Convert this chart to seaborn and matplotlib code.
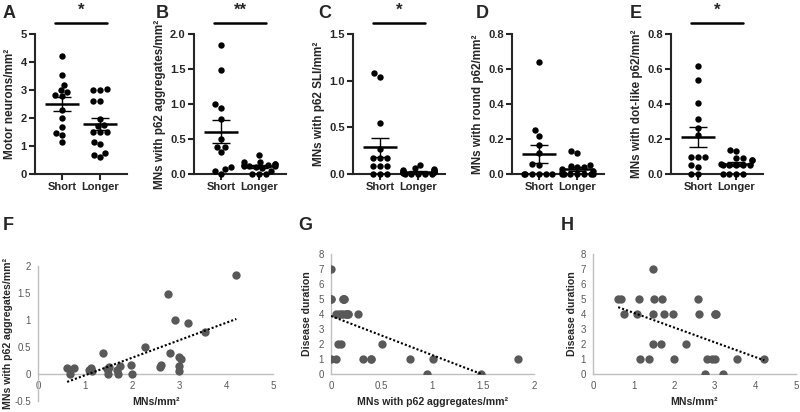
import warnings
import numpy as np
import pandas as pd
import matplotlib
matplotlib.use("Agg")
import matplotlib.pyplot as plt
import matplotlib.transforms as mtransforms
import seaborn as sns

warnings.filterwarnings("ignore")

# patients with short disease duration
short_mn = [2.77, 3.19, 1.15, 1.39, 1.99, 2.81, 2.92, 3.00, 3.55, 4.22, 1.47, 1.68, 2.28]
short_agg = [1.48, 0.95, 0.05, 0.39, 0.00, 0.39, 1.00, 0.32, 0.78, 1.84, 0.10, 0.07, 0.50]
short_dur = [0, 0, 1, 1, 1, 1, 1, 1, 1, 1, 2, 2, 2]
short_sli = [1.08, 1.04, 0.55, 0.27, 0.17, 0.17, 0.17, 0.09, 0.09, 0.09, 0.0, 0.0, 0.0]
short_round = [0.64, 0.25, 0.22, 0.165, 0.12, 0.055, 0.05, 0.0, 0.0, 0.0, 0.0, 0.0, 0.0]
short_dot = [0.615, 0.535, 0.405, 0.315, 0.265, 0.225, 0.10, 0.10, 0.10, 0.05, 0.04, 0.0, 0.0]

# patients with longer disease duration
longer_mn = [1.49, 0.62, 0.68, 1.13, 1.51, 1.70, 2.59, 0.76, 1.08, 1.49, 1.74, 1.98, 2.61, 3.00, 3.00, 3.04]
longer_agg = [0.00, 0.12, 0.00, 0.12, 0.13, 0.00, 0.13, 0.12, 0.08, 0.10, 0.15, 0.17, 0.17, 0.05, 0.15, 0.27]
longer_dur = [7, 5, 5, 5, 5, 5, 5, 4, 4, 4, 4, 4, 4, 4, 4, 4]
longer_sli = [0.10, 0.06, 0.05, 0.04, 0.04, 0.03, 0.03, 0.02, 0.02, 0.02, 0.01, 0.0, 0.0, 0.0, 0.0, 0.0]
longer_round = [0.13, 0.12, 0.05, 0.045, 0.04, 0.04, 0.03, 0.02, 0.01, 0.0, 0.0, 0.0, 0.0, 0.0, 0.0, 0.0]
longer_dot = [0.14, 0.13, 0.09, 0.09, 0.08, 0.08, 0.06, 0.05, 0.05, 0.05, 0.05, 0.05, 0.0, 0.0, 0.0, 0.0]

groups = ["Short", "Longer"]

top_letters = ["A", "B", "C", "D", "E"]
top_ylabels = ["Motor neurons/mm²", "MNs with p62 aggregates/mm²", "MNs with p62 SLI/mm²",
               "MNs with round p62/mm²", "MNs with dot-like p62/mm²"]
top_stars = ["*", "**", "*", "", "*"]
top_yticks = [[0, 1, 2, 3, 4, 5], [0, 0.5, 1.0, 1.5, 2.0], [0, 0.5, 1.0, 1.5],
              [0, 0.2, 0.4, 0.6, 0.8], [0, 0.2, 0.4, 0.6, 0.8]]
top_fmt = ["%d", "%.1f", "%.1f", "%.1f", "%.1f"]

f_yticks = [-0.5, 0, 0.5, 1, 1.5, 2]
f_yticklabels = ["-0.5", "0", "0.5", "1", "1.5", "2"]
f_xticks = [0, 1, 2, 3, 4, 5]
g_xticks = [0, 0.5, 1, 1.5, 2]
g_xticklabels = ["0", "0.5", "1", "1.5", "2"]
dur_yticks = [0, 1, 2, 3, 4, 5, 6, 7, 8]

sns.set_style("ticks")
plt.rcParams["font.family"] = ["Liberation Sans", "DejaVu Sans"]

W, H = 800, 412


def box(x0, x1, ytop, ybot):
    return [x0 / W, 1 - ybot / H, (x1 - x0) / W, (ybot - ytop) / H]


fig = plt.figure(figsize=(8, 4.12), dpi=100)

short_sets = [short_mn, short_agg, short_sli, short_round, short_dot]
longer_sets = [longer_mn, longer_agg, longer_sli, longer_round, longer_dot]
lefts = [35, 194, 353, 512, 671]
letter_x = [3, 156, 318, 476, 630]

for k in range(5):
    ax = fig.add_axes(box(lefts[k], lefts[k] + 92, 34, 174))
    df = pd.DataFrame({
        "group": ["Short"] * len(short_sets[k]) + ["Longer"] * len(longer_sets[k]),
        "value": short_sets[k] + longer_sets[k],
    })
    sns.swarmplot(data=df, x="group", y="value", order=groups, color="black",
                  size=4.6, ax=ax, clip_on=False, zorder=3)

    stats = df.groupby("group")["value"].agg(["mean", "sem"])
    for i, g in enumerate(groups):
        m = stats.loc[g, "mean"]
        se = stats.loc[g, "sem"]
        ax.hlines(m, i - 0.45, i + 0.45, color="black", lw=1.8, zorder=4)
        ax.errorbar(i, m, yerr=se, color="black", lw=1.0, capsize=6.5,
                    capthick=1.0, zorder=4)

    yt = top_yticks[k]
    ax.set_ylim(0, yt[-1])
    ax.set_xlim(-0.7, 1.7)
    ax.set_yticks(yt)
    ax.set_yticklabels([top_fmt[k] % v for v in yt])
    ax.set_xlabel("")
    ax.set_ylabel(top_ylabels[k], fontsize=8.5, fontweight="bold", labelpad=3)
    ax.tick_params(labelsize=8, width=1.5, length=4, pad=2)
    for lab in ax.get_xticklabels() + ax.get_yticklabels():
        lab.set_fontweight("bold")
    for s in ["left", "bottom"]:
        ax.spines[s].set_linewidth(1.5)
    sns.despine(ax=ax)

    if top_stars[k]:
        trans = mtransforms.blended_transform_factory(ax.transData, ax.transAxes)
        ax.plot([-0.17, 1.17], [1.079, 1.079], color="black", lw=1.8,
                transform=trans, clip_on=False)
        ax.text(0.5, 1.136, top_stars[k], transform=trans, ha="center",
                va="baseline", fontsize=12, fontweight="bold")

    fig.text(letter_x[k] / W, 1 - 13 / H, top_letters[k], ha="left", va="center",
             fontsize=13, fontweight="bold")

# bottom row
all_mn = short_mn + longer_mn
all_agg = short_agg + longer_agg
all_dur = short_dur + longer_dur

dot_kws = dict(s=36, color="#595959", linewidths=0, alpha=1, zorder=3)
line_kws = dict(color="black", lw=1.5, ls=(0, (1, 1)), zorder=4)
gray = "#BFBFBF"
tick_gray = "#595959"

bottom = [
    ("F", box(38, 273, 266, 401), all_mn, all_agg, "MNs/mm²",
     "MNs with p62 aggregates/mm²", 3, 8),
    ("G", box(331, 534, 254, 374), all_agg, all_dur, "MNs with p62 aggregates/mm²",
     "Disease duration", 298, 307),
    ("H", box(593, 796, 254, 374), all_mn, all_dur, "MNs/mm²",
     "Disease duration", 561, 572),
]

for letter, pos, xs, ys, xl, yl, lx, ylx in bottom:
    ax = fig.add_axes(pos)
    sns.regplot(x=np.array(xs), y=np.array(ys), ax=ax, ci=None,
                scatter_kws=dot_kws, line_kws=line_kws)
    if letter == "F":
        ax.set_xlim(0, 5)
        ax.set_ylim(-0.5, 2)
        ax.set_xticks(f_xticks)
        ax.set_yticks(f_yticks)
        ax.set_yticklabels(f_yticklabels)
        ax.spines["bottom"].set_position(("data", 0))
    elif letter == "G":
        ax.set_xlim(0, 2)
        ax.set_ylim(0, 8)
        ax.set_xticks(g_xticks)
        ax.set_xticklabels(g_xticklabels)
        ax.set_yticks(dur_yticks)
    else:
        ax.set_xlim(0, 5)
        ax.set_ylim(0, 8)
        ax.set_xticks(f_xticks)
        ax.set_yticks(dur_yticks)
    ax.set_xlabel("")
    ax.set_ylabel("")
    ax.tick_params(length=0, labelsize=7, labelcolor=tick_gray, pad=5)
    ax.tick_params(axis="x", pad=5)
    sns.despine(ax=ax)
    for s in ["left", "bottom"]:
        ax.spines[s].set_color(gray)
        ax.spines[s].set_linewidth(1.0)
    ax.set_facecolor("none")

    cx = (pos[0] + pos[2] / 2)
    fig.text(cx, 1 - 402 / H, xl, ha="center", va="center", fontsize=7.6,
             fontweight="bold")
    fig.text(ylx / W, pos[1] + pos[3] / 2, yl, ha="center", va="center",
             rotation=90, fontsize=7.6, fontweight="bold")
    fig.text(lx / W, 1 - 226 / H, letter, ha="left", va="center",
             fontsize=13, fontweight="bold")

fig.savefig("out.png", dpi=100)
